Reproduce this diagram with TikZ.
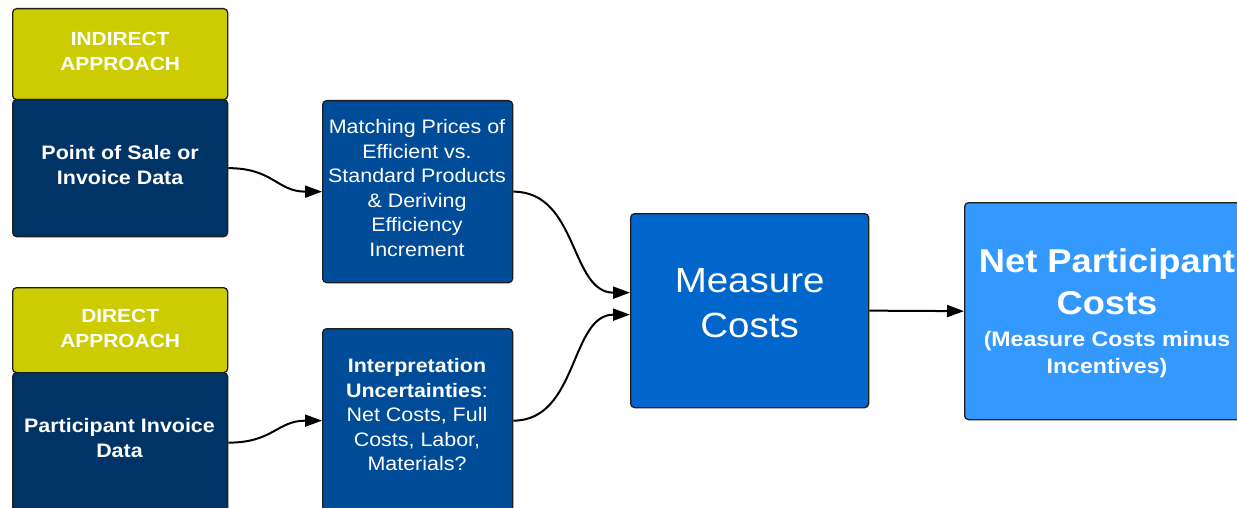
\documentclass[tikz,border=0pt]{standalone}
\usepackage{fontspec}
\setmainfont{Liberation Sans}[FakeStretch=1.1]
\usetikzlibrary{arrows.meta}
\definecolor{ylw}{HTML}{CCCC00}
\definecolor{navy}{HTML}{003366}
\definecolor{midblue}{HTML}{004C99}
\definecolor{measblue}{HTML}{0066CC}
\definecolor{netblue}{HTML}{3399FF}
\definecolor{edge}{HTML}{1E1E1E}
\begin{document}
\begin{tikzpicture}[x=1pt,y=-1pt,
  box/.style={draw=edge, line width=1.3pt, rounded corners=4pt, anchor=north west, inner sep=0pt},
  txt/.style={text=white, align=center, inner sep=0pt},
  conn/.style={draw=black, line width=2pt, -{Triangle[length=17pt,width=12pt]}}]
\useasboundingbox (0,0) rectangle (1237,508);
\clip (0,0) rectangle (1237,508);
% left column
\node[box, fill=ylw, minimum width=215, minimum height=91] (ind) at (12,8) {};
\node[box, fill=navy, minimum width=215, minimum height=137] (pos) at (12,99) {};
\node[box, fill=ylw, minimum width=215, minimum height=85] (dir) at (12,287) {};
\node[box, fill=navy, minimum width=215, minimum height=140] (part) at (12,372) {};
% middle column
\node[box, fill=midblue, minimum width=190, minimum height=182] (match) at (322,100) {};
\node[box, fill=midblue, minimum width=190, minimum height=184] (interp) at (322,328) {};
% right
\node[box, fill=measblue, minimum width=238, minimum height=194] (measure) at (630,213) {};
\node[box, fill=netblue, minimum width=286, minimum height=217] (net) at (964,202) {};
% texts
\node[txt, font=\bfseries\fontsize{19}{25}\selectfont] (indt) at ([yshift=3pt]ind.center) {INDIRECT\\APPROACH};
\node[txt, font=\bfseries\fontsize{19}{25}\selectfont] (dirt) at ([yshift=2pt]dir.center) {DIRECT\\APPROACH};
\node[txt, font=\bfseries\fontsize{19.5}{25}\selectfont] (post) at ([yshift=3pt]pos.center) {Point of Sale or\\Invoice Data};
\node[txt, font=\bfseries\fontsize{19.5}{25}\selectfont] (partt) at (119.5,438) {Participant Invoice\\Data};
\node[txt, font=\fontsize{19.5}{24.5}\selectfont] (matcht) at (417,188) {Matching Prices of\\Efficient vs.\\Standard Products\\\& Deriving\\Efficiency\\Increment};
\node[txt, font=\fontsize{19.5}{24.5}\selectfont] (interpt) at (417,415) {\textbf{Interpretation}\\\textbf{Uncertainties}:\\Net Costs, Full\\Costs, Labor,\\Materials?};
\node[txt, font=\fontsize{35}{45}\selectfont] (meast) at ([yshift=8pt]measure.center) {Measure\\Costs};
\node[txt, font=\bfseries\fontsize{33}{42}\selectfont, anchor=south] (nett) at (1107,315) {Net Participant\\Costs};
\node[txt, font=\bfseries\fontsize{21}{27}\selectfont, anchor=north] (netsub) at (1107,331) {(Measure Costs minus\\Incentives)};
% connectors
\draw[conn] (pos.east) .. controls +(45,0) and +(-45,0) .. (match.west);
\draw[conn] (part.east) .. controls +(45,0) and +(-45,0) .. (interp.west);
\draw[conn] (match.east) .. controls +(65,0) and +(-60,0) .. ([yshift=18pt]measure.west);
\draw[conn] (interp.east) .. controls +(65,0) and +(-60,0) .. ([yshift=-4pt]measure.west);
\draw[conn] (measure.east) -- (net.west);
\end{tikzpicture}
\end{document}
